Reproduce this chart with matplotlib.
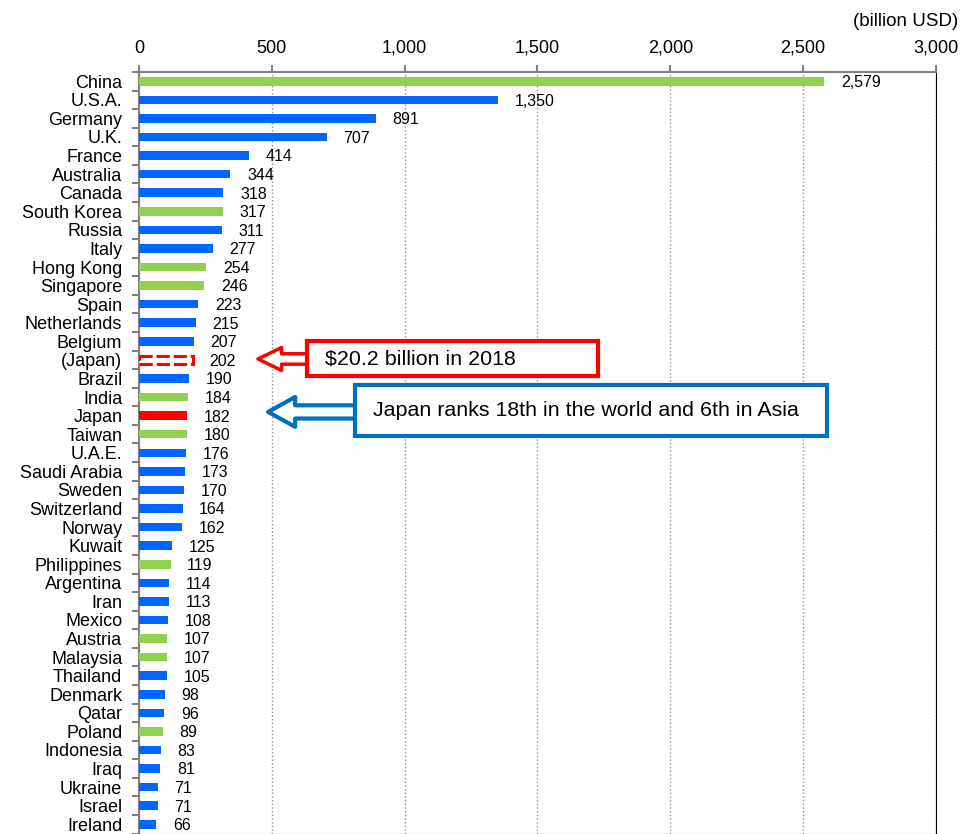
import matplotlib.pyplot as plt
import matplotlib.ticker as mticker
from matplotlib.patches import Rectangle
import numpy as np

plt.rcParams['font.family'] = ['Liberation Sans', 'DejaVu Sans']

# --- Data ---
countries = ['China', 'U.S.A.', 'Germany', 'U.K.', 'France', 'Australia', 'Canada',
             'South Korea', 'Russia', 'Italy', 'Hong Kong', 'Singapore', 'Spain',
             'Netherlands', 'Belgium', '(Japan)', 'Brazil', 'India', 'Japan', 'Taiwan',
             'U.A.E.', 'Saudi Arabia', 'Sweden', 'Switzerland', 'Norway', 'Kuwait',
             'Philippines', 'Argentina', 'Iran', 'Mexico', 'Austria', 'Malaysia',
             'Thailand', 'Denmark', 'Qatar', 'Poland', 'Indonesia', 'Iraq', 'Ukraine',
             'Israel', 'Ireland']
values = [2579, 1350, 891, 707, 414, 344, 318, 317, 311, 277, 254, 246, 223, 215, 207,
          202, 190, 184, 182, 180, 176, 173, 170, 164, 162, 125, 119, 114, 113, 108,
          107, 107, 105, 98, 96, 89, 83, 81, 71, 71, 66]
# g = green, b = blue, r = Japan, d = Japan 2018 (dashed)
groups = ['g', 'b', 'b', 'b', 'b', 'b', 'b', 'g', 'b', 'b', 'g', 'g', 'b', 'b', 'b',
          'd', 'b', 'g', 'r', 'g', 'b', 'b', 'b', 'b', 'b', 'b', 'g', 'b', 'b', 'b',
          'g', 'g', 'b', 'b', 'b', 'g', 'b', 'b', 'b', 'b', 'b']

colors = {'g': '#92D050', 'b': '#0066FF', 'r': '#FF0000', 'd': 'white'}

fig = plt.figure(figsize=(9.61, 8.34), dpi=100)
ax = fig.add_axes([0.1446, 0.0005, 0.8294, 0.9132])

y = np.arange(len(countries))
bars = ax.barh(y, values, height=0.46, color=[colors[g] for g in groups], zorder=3)
for b, g in zip(bars, groups):
    if g == 'd':
        b.set_height(0.4)
        b.set_y(b.get_y() + 0.03)
        b.set_edgecolor('#FF0000')
        b.set_linestyle((0, (4.3, 1.3)))
        b.set_linewidth(2.2)

for yi, v in zip(y, values):
    ax.annotate(f'{v:,}', (v, yi), xytext=(12, -1), textcoords='offset points',
                va='center', ha='left', fontsize=11.5)

ax.set_xlim(0, 3000)
ax.set_ylim(len(countries) - 0.5, -0.5)
ax.xaxis.set_major_locator(mticker.MultipleLocator(500))
ax.xaxis.set_major_formatter(mticker.FuncFormatter(lambda x, p: f'{int(x):,}'))
ax.xaxis.tick_top()
ax.tick_params(axis='x', labelsize=13, color='#808080', length=5, width=1.5, pad=6)
ax.grid(axis='x', color='#909090', linestyle=':', linewidth=1, zorder=0)

ax.set_yticks(y)
ax.set_yticklabels(countries, fontsize=13)
ax.tick_params(axis='y', length=0, pad=12)
ax.set_yticks(np.arange(-0.5, len(countries), 1), minor=True)
ax.tick_params(axis='y', which='minor', length=5, width=1.5, color='#808080')

ax.spines['top'].set_color('#808080')
ax.spines['left'].set_color('#808080')
ax.spines['top'].set_linewidth(1.5)
ax.spines['left'].set_linewidth(1.5)
ax.spines['right'].set_color('black')
ax.spines['bottom'].set_color('black')

fig.text(0.997, 0.985, '(billion USD)', ha='right', va='top', fontsize=13.5)

# --- Annotations ---
# red box: 2018 value
ax.add_patch(Rectangle((632, 14.0), 1096, 1.85, fc='white', ec='#FF0000', lw=3, zorder=5))
ax.text(700, 14.95, '$20.2 billion in 2018', fontsize=15.4, va='center', ha='left', zorder=6)
ax.annotate('', xy=(448, 14.95), xytext=(636, 14.95), zorder=4,
            arrowprops=dict(arrowstyle='simple,head_length=1.7,head_width=1.65,tail_width=0.75',
                            mutation_scale=10, fc='white', ec='#FF0000', lw=2.5,
                            shrinkA=0, shrinkB=0))

# blue box: ranking
ax.add_patch(Rectangle((813, 16.33), 1777, 2.78, fc='white', ec='#0070C0', lw=3, zorder=5))
ax.text(881, 17.72, 'Japan ranks 18th in the world and 6th in Asia', fontsize=15.4,
        va='center', ha='left', zorder=6)
ax.annotate('', xy=(486, 17.8), xytext=(817, 17.8), zorder=4,
            arrowprops=dict(arrowstyle='simple,head_length=1.95,head_width=2.15,tail_width=0.95',
                            mutation_scale=10, fc='white', ec='#0070C0', lw=3,
                            shrinkA=0, shrinkB=0))

fig.savefig('out.png', dpi=100)
